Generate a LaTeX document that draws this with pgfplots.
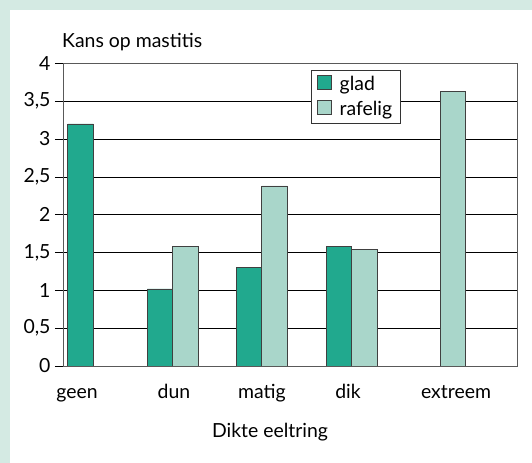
\documentclass[border=0pt]{standalone}
\usepackage{pgfplots}
\pgfplotsset{compat=1.18}
\usepackage{fontspec}
\setmainfont{Lato}
\definecolor{bgteal}{HTML}{D4EAE3}
\definecolor{glad}{HTML}{21A98E}
\definecolor{rafelig}{HTML}{A9D6CA}
\newcommand{\chartfont}{\fontsize{19.5}{22}\selectfont}
\begin{document}
\begin{tikzpicture}[x=1bp,y=1bp,font=\chartfont]
\fill[bgteal] (0,0) rectangle (532,463);
\fill[white] (10,0) rectangle (532,453);
\useasboundingbox (0,0) rectangle (532,463);
\node[anchor=base west, inner sep=0] at (62,415) {Kans op mastitis};
\node[anchor=base, inner sep=0] at (270,25) {Dikte eeltring};
\begin{axis}[
  at={(63bp,97bp)}, anchor=south west,
  scale only axis, width=454bp, height=302.7bp,
  xmin=63, xmax=517, ymin=0, ymax=4,
  xtick={77,174,262,348,456},
  xticklabels={geen,dun,matig,dik,extreem},
  x tick style={draw=none},
  xticklabel style={anchor=base, yshift=-25bp, font=\chartfont},
  ytick={0,0.5,1,1.5,2,2.5,3,3.5,4},
  yticklabels={0,{0,5},1,{1,5},2,{2,5},3,{3,5},4},
  yticklabel style={font=\chartfont, xshift=-1bp},
  y tick style={black, line width=0.6bp},
  major tick length=8bp,
  tick align=outside,
  ytick pos=left,
  ymajorgrids,
  grid style={black, line width=0.6bp},
  axis line style={draw=black!65, line width=0.8bp},
  legend style={at={(0.546,0.978)}, anchor=north west, draw=black!80, line width=0.6bp,
    font=\chartfont, inner xsep=6bp, inner ysep=4bp, row sep=5bp, cells={anchor=west},
    /tikz/every odd column/.append style={column sep=6bp}},
  legend image code/.code={\draw[#1, line width=0.5bp] (0bp,-5bp) rectangle (14bp,9bp);},
]
\addplot[ybar, bar shift=0pt, bar width=25.5, fill=glad, draw=black!75, line width=0.6bp]
  coordinates {(80.5,3.2) (160,1.02) (249.5,1.30) (339,1.58)};
\addlegendentry{glad}
\addplot[ybar, bar shift=0pt, bar width=25.5, fill=rafelig, draw=black!75, line width=0.6bp]
  coordinates {(185.5,1.58) (274.5,2.38) (364.5,1.54) (453,3.63)};
\addlegendentry{rafelig}
\end{axis}
\end{tikzpicture}
\end{document}
